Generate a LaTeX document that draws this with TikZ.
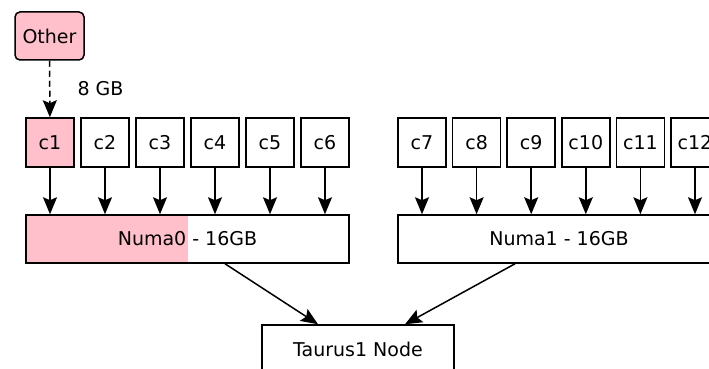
\documentclass[tikz,border=0pt]{standalone}
\usepackage{fontspec}
\setmainfont{DejaVu Sans}
\usetikzlibrary{arrows.meta}
\definecolor{pinkfill}{HTML}{FFC0CB}
\begin{document}
\begin{tikzpicture}[x=1pt,y=-1pt,
  every node/.style={font=\fontsize{19}{23}\selectfont},
  box/.style={draw,line width=1.5pt,inner sep=0pt,minimum height=48pt},
  core/.style={box,minimum width=48pt,minimum height=49pt},
  arr/.style={line width=1.5pt,-{Stealth[length=17pt,width=14pt,inset=3pt]}}]
\useasboundingbox (0,0) rectangle (709,369);
\node[box,fill=pinkfill,rounded corners=5pt,minimum width=69pt] (other) at (49.5,36) {Other};
\foreach \i/\x in {1/50,2/105,3/160,4/215,5/270,6/325,7/422,8/476.6,9/531.2,10/585.8,11/640.4,12/695}
  \node[core] (c\i) at (\x,142.5) {c\i};
\node[core,fill=pinkfill] at (c1) {c1};
\node[box,minimum width=323pt,path picture={\fill[pinkfill] (path picture bounding box.south west) rectangle ([xshift=162pt]path picture bounding box.north west);}] (numa0) at (187.5,239) {Numa0 - 16GB};
\node[box,minimum width=322pt] (numa1) at (559,239) {Numa1 - 16GB};
\node[box,minimum width=192pt] (taurus) at (358,349) {Taurus1 Node};
\draw[arr,dash pattern=on 6pt off 4pt] (other) -- (c1);
\node[anchor=west] (lbl) at (74,89) {8 GB};
\foreach \i in {1,...,6} \draw[arr] (c\i) -- (c\i |- numa0.north);
\foreach \i in {7,...,12} \draw[arr] (c\i) -- (c\i |- numa1.north);
\draw[arr] ([xshift=37.5pt]numa0.south) -- ([xshift=-40pt]taurus.north);
\draw[arr] ([xshift=-44pt]numa1.south) -- ([xshift=47pt]taurus.north);
\end{tikzpicture}
\end{document}
